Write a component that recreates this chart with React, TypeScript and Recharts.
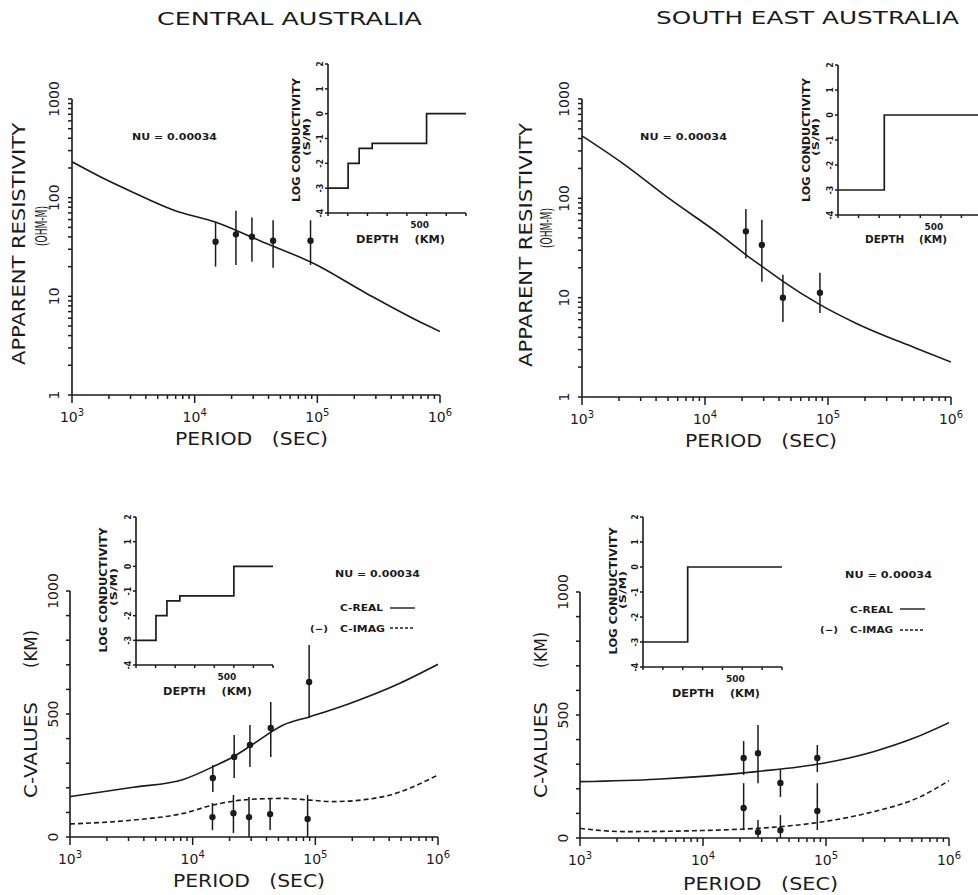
import React from "react";
import { ComposedChart, Line, Scatter, ErrorBar, XAxis, YAxis, ZAxis } from "recharts";

const INK = "#1b1b1b";
const FONT = "'DejaVu Sans', 'Liberation Sans', sans-serif";
const PAGE_W = 1000;
const PAGE_H = 895;

// ---- Central Australia: apparent resistivity (ohm-m) vs period (s)
const caRhoPeriod = [1000, 1700, 3160, 6700, 15100, 34000, 92700, 252000, 730000, 1000000];
const caRhoModel = [231, 163, 113, 75, 56, 36.6, 21.6, 10.7, 5.3, 4.4];
const caRhoObsPeriod = [14800, 21700, 29300, 43600, 88000];
const caRhoObs = [35.7, 42.5, 40.2, 36.6, 36.6];
const caRhoObsLow = [20, 20.8, 22.4, 19.5, 20.8];
const caRhoObsHigh = [55.7, 73.6, 63, 59, 59];

// ---- South East Australia: apparent resistivity
const seRhoPeriod = [1000, 2200, 5200, 14000, 21500, 29000, 43000, 86000, 170000, 520000, 1000000];
const seRhoModel = [425, 220, 98, 41, 27, 20.7, 14.6, 8.5, 5.5, 3.1, 2.25];
const seRhoObsPeriod = [21500, 29000, 43000, 86000];
const seRhoObs = [46.5, 34, 10, 11.2];
const seRhoObsLow = [25, 14.5, 5.7, 7];
const seRhoObsHigh = [78, 61, 17, 17.8];

// ---- Central Australia: C-values (km)
const caRealPeriod = [1000, 3280, 8380, 14700, 21400, 31200, 54700, 90400, 191000, 489000, 1000000];
const caRealModel = [164, 202, 234, 286, 326, 378, 455, 489, 543, 625, 702];
const caImagPeriod = [1000, 3280, 8380, 14700, 29300, 54700, 90400, 140000, 357000, 1000000];
const caImagModel = [53, 69, 96, 130, 153, 157, 150, 144, 164, 252];
const caRealObsPeriod = [14600, 21800, 29300, 43300, 89000];
const caRealObs = [240, 325, 374, 443, 630];
const caRealObsLow = [183, 240, 285, 325, 484];
const caRealObsHigh = [293, 415, 455, 549, 780];
const caImagObsPeriod = [14500, 21500, 28800, 42800, 86500];
const caImagObs = [81, 97, 81, 93, 73];
const caImagObsLow = [28, 16, 0, 28, 0];
const caImagObsHigh = [138, 171, 163, 158, 171];

// ---- South East Australia: C-values (km)
const seRealPeriod = [1000, 4200, 27300, 95000, 243000, 513000, 1000000];
const seRealModel = [229, 239, 270, 304, 351, 405, 469];
const seImagPeriod = [1000, 2250, 14600, 42300, 95000, 243000, 546000, 1000000];
const seImagModel = [39, 26, 33, 46, 66, 107, 161, 233];
const seCObsPeriod = [21400, 28000, 42600, 85000];
const seRealObs = [325, 345, 224, 325];
const seRealObsLow = [256, 223, 167, 268];
const seRealObsHigh = [394, 459, 280, 378];
const seImagObs = [122, 24, 32, 110];
const seImagObsLow = [32, 0, 0, 32];
const seImagObsHigh = [223, 73, 93, 223];

// ---- conductivity models (inset): depth (km) vs log10 conductivity (S/m)
const caModelDepth = [0, 102, 158, 224, 500, 700];
const caModelLogC = [-3, -2, -1.4, -1.2, 0, 0];
const seModelDepth = [0, 225, 700];
const seModelLogC = [-3, 0, 0];

// ---- axis ticks
const PERIOD_TICKS = [3, 4, 5].flatMap((e) => [1, 2, 3, 4, 5, 6, 7, 8, 9].map((k) => k * 10 ** e)).concat([1e6]);
const RHO_TICKS = [0, 1, 2].flatMap((e) => [1, 2, 3, 4, 5, 6, 7, 8, 9].map((k) => k * 10 ** e)).concat([1000]);
const C_TICKS = [0, 100, 200, 300, 400, 500, 600, 700, 800, 900, 1000];
const DEPTH_TICKS = [0, 100, 200, 300, 400, 500, 600, 700];
const COND_TICKS = [-4, -3, -2, -1, 0, 1, 2];

const pts = (xs: number[], ys: number[]) => xs.map((x, i) => ({ x, y: ys[i] }));
const obs = (xs: number[], ys: number[], lo: number[], hi: number[]) =>
  xs.map((x, i) => ({ x, y: ys[i], err: [ys[i] - lo[i], hi[i] - ys[i]] }));

type Rect = { x1: number; y1: number; x2: number; y2: number };
// axes get 1px of room (a 0-size axis is not drawn), so the margins give that pixel back
const marginOf = (r: Rect) => ({ left: r.x1 - 1, top: r.y1, right: PAGE_W - r.x2, bottom: PAGE_H - r.y2 - 1 });
const AXIS = { stroke: INK, strokeWidth: 1.6 };
const TICK_LINE = { stroke: INK, strokeWidth: 1.5 };
const MAIN_TICK = 4;
const INSET_TICK = 3;

const isDecade = (v: number) => {
  const e = Math.log10(v);
  return Math.abs(e - Math.round(e)) < 1e-6;
};

// custom tick labels: x / y arrive already pushed out by the tick length
const periodTick = (p: any) => {
  const { x, y, payload } = p;
  const v = payload.value;
  if (!isDecade(v)) return <g />;
  return (
    <g>
      <line x1={x} x2={x} y1={y} y2={y + 4} stroke={INK} strokeWidth={1.5} />
      <text x={x} y={y + 23} textAnchor="middle" fontFamily={FONT} fontSize={14} fill={INK}>
        10
        <tspan dy={-6} fontSize={10}>
          {Math.round(Math.log10(v))}
        </tspan>
      </text>
    </g>
  );
};

const rotLabel = (x: number, y: number, s: string | number, size: number, bold = false) => (
  <text
    x={x}
    y={y}
    transform={`rotate(-90 ${x} ${y})`}
    textAnchor="middle"
    fontFamily={FONT}
    fontSize={size}
    fontWeight={bold ? 700 : 400}
    fill={INK}
  >
    {s}
  </text>
);

const rhoTick = (p: any) => {
  const { x, y, payload } = p;
  const v = payload.value;
  return isDecade(v) ? rotLabel(x - 9, y, v, 14) : <g />;
};

const cTick = (p: any) => {
  const { x, y, payload } = p;
  const v = payload.value;
  return v % 500 === 0 ? rotLabel(x - 8, y, v, 14) : <g />;
};

const depthTick = (p: any) => {
  const { x, y, payload } = p;
  if (payload.value !== 500) return <g />;
  return (
    <text x={x - 7} y={y + 12} textAnchor="middle" fontFamily={FONT} fontSize={9} fontWeight={700} fill={INK}>
      500
    </text>
  );
};

const condTick = (p: any) => {
  const { x, y, payload } = p;
  return rotLabel(x - 2, y, payload.value, 8, true);
};

const Layer = ({ children }: { children: React.ReactNode }) => (
  <div style={{ position: "absolute", left: 0, top: 0 }}>{children}</div>
);

type Curve = { data: { x: number; y: number }[]; dashed?: boolean };

function MainPanel({ rect, kind, curves, observed }: { rect: Rect; kind: "rho" | "c"; curves: Curve[]; observed: any[][] }) {
  const isRho = kind === "rho";
  return (
    <Layer>
      <ComposedChart width={PAGE_W} height={PAGE_H} margin={marginOf(rect)}>
        <XAxis
          type="number"
          dataKey="x"
          scale="log"
          domain={[1e3, 1e6]}
          ticks={PERIOD_TICKS}
          interval={0}
          allowDataOverflow
          tickLine={TICK_LINE}
          tickSize={MAIN_TICK}
          tickMargin={0}
          height={1}
          axisLine={AXIS}
          tick={periodTick}
        />
        <YAxis
          type="number"
          scale={isRho ? "log" : "linear"}
          domain={isRho ? [1, 1000] : [0, 1000]}
          ticks={isRho ? RHO_TICKS : C_TICKS}
          interval={0}
          allowDataOverflow
          width={1}
          tickLine={TICK_LINE}
          tickSize={MAIN_TICK}
          tickMargin={0}
          axisLine={AXIS}
          tick={isRho ? rhoTick : cTick}
        />
        <ZAxis range={[32, 32]} />
        {curves.map((c, i) => (
          <Line
            key={"c" + i}
            data={c.data}
            dataKey="y"
            type="monotone"
            stroke={INK}
            strokeWidth={1.6}
            strokeDasharray={c.dashed ? "5 3" : undefined}
            dot={false}
            isAnimationActive={false}
          />
        ))}
        {observed.map((d, i) => (
          <Scatter key={"o" + i} data={d} dataKey="y" fill={INK} isAnimationActive={false}>
            <ErrorBar dataKey="err" direction="y" width={0} stroke={INK} strokeWidth={1.5} isAnimationActive={false} />
          </Scatter>
        ))}
      </ComposedChart>
    </Layer>
  );
}

function Inset({ rect, depth, logc }: { rect: Rect; depth: number[]; logc: number[] }) {
  return (
    <Layer>
      <ComposedChart width={PAGE_W} height={PAGE_H} margin={marginOf(rect)}>
        <XAxis
          type="number"
          dataKey="x"
          domain={[0, 700]}
          ticks={DEPTH_TICKS}
          interval={0}
          allowDataOverflow
          tickLine={TICK_LINE}
          tickSize={INSET_TICK}
          tickMargin={0}
          height={1}
          axisLine={AXIS}
          tick={depthTick}
        />
        <YAxis
          type="number"
          domain={[-4, 2]}
          ticks={COND_TICKS}
          interval={0}
          allowDataOverflow
          width={1}
          tickLine={TICK_LINE}
          tickSize={INSET_TICK}
          tickMargin={0}
          axisLine={AXIS}
          tick={condTick}
        />
        <Line data={pts(depth, logc)} dataKey="y" type="stepAfter" stroke={INK} strokeWidth={1.7} dot={false} isAnimationActive={false} />
      </ComposedChart>
    </Layer>
  );
}

type TxtProps = { x: number; y: number; s: string; size: number; len?: number; bold?: boolean; rot?: boolean };
function Txt({ x, y, s, size, len, bold, rot }: TxtProps) {
  return (
    <text
      x={x}
      y={y}
      fontSize={size}
      fontFamily={FONT}
      fontWeight={bold ? 700 : 400}
      fill={INK}
      textAnchor={rot ? "middle" : "start"}
      transform={rot ? `rotate(-90 ${x} ${y})` : undefined}
      textLength={len}
      lengthAdjust={len ? "spacingAndGlyphs" : undefined}
      style={{ whiteSpace: "pre" }}
    >
      {s}
    </text>
  );
}

function Labels() {
  return (
    <svg width={978} height={895} style={{ position: "absolute", left: 0, top: 0 }}>
      {/* titles */}
      <Txt x={157} y={25} s="CENTRAL AUSTRALIA" size={18} len={265} />
      <Txt x={656} y={24} s="SOUTH EAST AUSTRALIA" size={18} len={303} />

      {/* top-left */}
      <Txt x={25} y={244} s="APPARENT RESISTIVITY" size={17} len={242} rot />
      <Txt x={47} y={226} s="(OHM-M)" size={16} len={40} rot />
      <Txt x={175} y={445} s="PERIOD   (SEC)" size={18} len={153} />
      <Txt x={132} y={140} s="NU = 0.00034" size={9} len={85} bold />
      <Txt x={300} y={140} s="LOG CONDUCTIVITY" size={10} len={124} bold rot />
      <Txt x={310} y={137} s="(S/M)" size={8} len={38} bold rot />
      <Txt x={356} y={243} s="DEPTH    (KM)" size={10} len={89} bold />

      {/* top-right */}
      <Txt x={532} y={245} s="APPARENT RESISTIVITY" size={17} len={244} rot />
      <Txt x={552} y={228} s="(OHM-M)" size={16} len={40} rot />
      <Txt x={685} y={447} s="PERIOD   (SEC)" size={18} len={152} />
      <Txt x={640} y={140} s="NU = 0.00034" size={9} len={87} bold />
      <Txt x={810} y={140} s="LOG CONDUCTIVITY" size={10} len={124} bold rot />
      <Txt x={819} y={137} s="(S/M)" size={8} len={38} bold rot />
      <Txt x={865} y={243} s="DEPTH    (KM)" size={10} len={82} bold />

      {/* bottom-left */}
      <Txt x={37} y={750} s="C-VALUES" size={17} len={96} rot />
      <Txt x={37} y={649} s="(KM)" size={17} len={38} rot />
      <Txt x={173} y={887} s="PERIOD   (SEC)" size={18} len={152} />
      <Txt x={335} y={577} s="NU = 0.00034" size={9} len={85} bold />
      <Txt x={340} y={611} s="C-REAL" size={9} len={43} bold />
      <line x1={390} x2={415} y1={608} y2={608} stroke={INK} strokeWidth={1.4} />
      <Txt x={310} y={632} s="(−)" size={9} len={18} bold />
      <Txt x={340} y={632} s="C-IMAG" size={9} len={45} bold />
      <line x1={390} x2={415} y1={628} y2={628} stroke={INK} strokeWidth={1.4} strokeDasharray="3 2" />
      <Txt x={107} y={590} s="LOG CONDUCTIVITY" size={10} len={125} bold rot />
      <Txt x={117} y={587} s="(S/M)" size={8} len={38} bold rot />
      <Txt x={163} y={695} s="DEPTH    (KM)" size={10} len={89} bold />

      {/* bottom-right */}
      <Txt x={547} y={750} s="C-VALUES" size={17} len={96} rot />
      <Txt x={547} y={650} s="(KM)" size={17} len={36} rot />
      <Txt x={683} y={890} s="PERIOD   (SEC)" size={18} len={155} />
      <Txt x={845} y={578} s="NU = 0.00034" size={9} len={87} bold />
      <Txt x={850} y={613} s="C-REAL" size={9} len={43} bold />
      <line x1={900} x2={925} y1={609} y2={609} stroke={INK} strokeWidth={1.4} />
      <Txt x={820} y={633} s="(−)" size={9} len={18} bold />
      <Txt x={850} y={633} s="C-IMAG" size={9} len={43} bold />
      <line x1={900} x2={925} y1={630} y2={630} stroke={INK} strokeWidth={1.4} strokeDasharray="3 2" />
      <Txt x={617} y={591} s="LOG CONDUCTIVITY" size={10} len={127} bold rot />
      <Txt x={626} y={590} s="(S/M)" size={8} len={38} bold rot />
      <Txt x={672} y={697} s="DEPTH    (KM)" size={10} len={88} bold />
    </svg>
  );
}

export default function App() {
  return (
    <div
      style={{
        position: "absolute",
        left: 0,
        top: 0,
        width: 978,
        height: 895,
        overflow: "hidden",
        background: "#fff",
      }}
    >
      <MainPanel
        rect={{ x1: 72, y1: 99, x2: 440, y2: 395 }}
        kind="rho"
        curves={[{ data: pts(caRhoPeriod, caRhoModel) }]}
        observed={[obs(caRhoObsPeriod, caRhoObs, caRhoObsLow, caRhoObsHigh)]}
      />
      <Inset rect={{ x1: 328, y1: 64, x2: 466, y2: 213 }} depth={caModelDepth} logc={caModelLogC} />

      <MainPanel
        rect={{ x1: 582, y1: 99, x2: 951, y2: 397 }}
        kind="rho"
        curves={[{ data: pts(seRhoPeriod, seRhoModel) }]}
        observed={[obs(seRhoObsPeriod, seRhoObs, seRhoObsLow, seRhoObsHigh)]}
      />
      <Inset rect={{ x1: 838, y1: 65, x2: 982, y2: 215 }} depth={seModelDepth} logc={seModelLogC} />

      <MainPanel
        rect={{ x1: 70, y1: 591, x2: 438, y2: 837 }}
        kind="c"
        curves={[
          { data: pts(caRealPeriod, caRealModel) },
          { data: pts(caImagPeriod, caImagModel), dashed: true },
        ]}
        observed={[
          obs(caRealObsPeriod, caRealObs, caRealObsLow, caRealObsHigh),
          obs(caImagObsPeriod, caImagObs, caImagObsLow, caImagObsHigh),
        ]}
      />
      <Inset rect={{ x1: 136, y1: 517, x2: 273, y2: 665 }} depth={caModelDepth} logc={caModelLogC} />

      <MainPanel
        rect={{ x1: 580, y1: 592, x2: 949, y2: 838 }}
        kind="c"
        curves={[
          { data: pts(seRealPeriod, seRealModel) },
          { data: pts(seImagPeriod, seImagModel), dashed: true },
        ]}
        observed={[
          obs(seCObsPeriod, seRealObs, seRealObsLow, seRealObsHigh),
          obs(seCObsPeriod, seImagObs, seImagObsLow, seImagObsHigh),
        ]}
      />
      <Inset rect={{ x1: 643, y1: 517, x2: 782, y2: 667 }} depth={seModelDepth} logc={seModelLogC} />

      <Labels />
    </div>
  );
}
